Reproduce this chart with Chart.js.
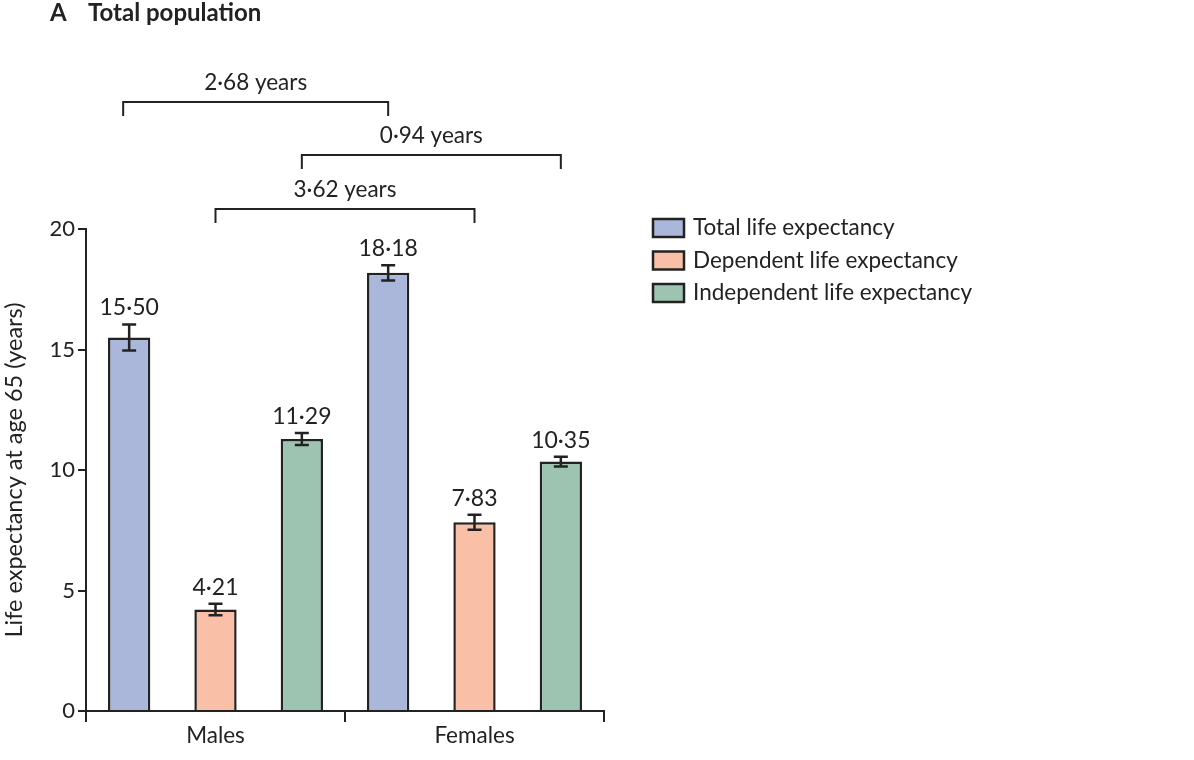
<!DOCTYPE html>
<html>
<head>
<meta charset="utf-8">
<script src="https://cdn.jsdelivr.net/npm/chart.js@4"></script>
<style>
  body { margin: 0; background: #fff; }
</style>
</head>
<body>
<canvas id="leChart" width="1194" height="760"></canvas>
<script>
const categories = ['Males', 'Females'];
const seriesNames = ['Total life expectancy', 'Dependent life expectancy', 'Independent life expectancy'];
const totalLE = [15.50, 18.18];
const dependentLE = [4.21, 7.83];
const independentLE = [11.29, 10.35];
// half-width of the error bars (years)
const totalErr = [0.54, 0.32];
const dependentErr = [0.24, 0.31];
const independentErr = [0.25, 0.20];
const yTicks = [0, 5, 10, 15, 20];
// male vs female differences, drawn as brackets over the bars
const diffLabels = ['2·68 years', '0·94 years', '3·62 years'];
const diffSeries = [0, 2, 1];

const FONT = 'Lato';
const INK = '#222';
const colours = ['#aab7db', '#f9c0a7', '#9dc4b0'];

const fmt = v => v.toFixed(2).replace('.', '·');

// error bars + value labels on top of each bar
const errorBars = {
    id: 'errorBars',
    afterDatasetsDraw(chart) {
        const ctx = chart.ctx, y = chart.scales.y;
        ctx.save();
        chart.data.datasets.forEach((ds, i) => {
            chart.getDatasetMeta(i).data.forEach((bar, j) => {
                const v = ds.data[j], e = ds.errors[j];
                const top = y.getPixelForValue(v + e), bot = y.getPixelForValue(v - e);
                ctx.strokeStyle = INK;
                ctx.lineWidth = 2.5;
                ctx.beginPath();
                ctx.moveTo(bar.x, top); ctx.lineTo(bar.x, bot);
                ctx.moveTo(bar.x - 7, top); ctx.lineTo(bar.x + 7, top);
                ctx.moveTo(bar.x - 7, bot); ctx.lineTo(bar.x + 7, bot);
                ctx.stroke();
                ctx.fillStyle = INK;
                ctx.font = '23px ' + FONT;
                ctx.textAlign = 'center';
                ctx.textBaseline = 'alphabetic';
                ctx.fillText(fmt(v), bar.x, top - 9);
            });
        });
        ctx.restore();
    }
};

// brackets, panel title and legend
const extras = {
    id: 'extras',
    afterDraw(chart) {
        const ctx = chart.ctx, area = chart.chartArea;
        ctx.save();
        ctx.strokeStyle = INK;
        ctx.fillStyle = INK;
        ctx.lineWidth = 2;
        const levels = [127, 74, 20];
        diffLabels.forEach((label, k) => {
            const bars = chart.getDatasetMeta(diffSeries[k]).data;
            const x1 = bars[0].x - (k === 0 ? 6 : 0), x2 = bars[1].x;
            const ly = area.top - levels[k];
            ctx.beginPath();
            ctx.moveTo(x1, ly + 14); ctx.lineTo(x1, ly); ctx.lineTo(x2, ly); ctx.lineTo(x2, ly + 14);
            ctx.stroke();
            ctx.font = '22.5px ' + FONT;
            ctx.textAlign = 'center';
            ctx.textBaseline = 'middle';
            ctx.fillText(label, (x1 + x2) / 2, ly - 19);
        });

        ctx.textAlign = 'left';
        ctx.textBaseline = 'middle';
        ctx.font = 'bold 24px ' + FONT;
        ctx.fillText('A', 50, 13);
        ctx.font = 'bold 24px ' + FONT;
        ctx.fillText('Total population', 88, 13);

        ctx.lineWidth = 2.5;
        chart.data.datasets.forEach((ds, i) => {
            const cy = area.top - 1 + i * 32.5;
            ctx.fillStyle = ds.backgroundColor;
            ctx.fillRect(653, cy - 9, 31, 18);
            ctx.strokeRect(653, cy - 9, 31, 18);
            ctx.fillStyle = INK;
            ctx.font = '22.5px ' + FONT;
            ctx.fillText(ds.label, 693, cy);
        });
        ctx.restore();
    }
};

const series = [totalLE, dependentLE, independentLE];
const errs = [totalErr, dependentErr, independentErr];

new Chart(document.getElementById('leChart'), {
    type: 'bar',
    data: {
        labels: categories,
        datasets: seriesNames.map((name, i) => ({
            label: name,
            data: series[i],
            errors: errs[i],
            backgroundColor: colours[i],
            borderColor: INK,
            borderWidth: 2.5,
            barPercentage: 0.49,
            categoryPercentage: 1.0
        }))
    },
    options: {
        responsive: false,
        animation: false,
        devicePixelRatio: 1,
        layout: { padding: { top: 229, right: 590, left: 0, bottom: 0 } },
        plugins: { legend: { display: false }, tooltip: { enabled: false } },
        scales: {
            x: {
                grid: { offset: true, drawOnChartArea: false, tickLength: 11, color: INK, lineWidth: 2 },
                border: { color: INK, width: 2 },
                ticks: { color: INK, font: { family: FONT, size: 22.5 }, padding: 0 },
                afterFit: s => { s.height = 49; }
            },
            y: {
                min: 0,
                max: 20,
                afterBuildTicks: s => { s.ticks = yTicks.map(v => ({ value: v })); },
                grid: { drawOnChartArea: false, tickLength: 8, color: INK, lineWidth: 2 },
                border: { color: INK, width: 2 },
                ticks: { color: INK, font: { family: FONT, size: 22 }, padding: 3 },
                title: {
                    display: true,
                    text: 'Life expectancy at age 65 (years)',
                    color: INK,
                    font: { family: FONT, size: 23.5 },
                    padding: { top: 0, bottom: 0 }
                },
                afterFit: s => { s.width = 86; }
            }
        }
    },
    plugins: [errorBars, extras]
});
</script>
</body>
</html>
